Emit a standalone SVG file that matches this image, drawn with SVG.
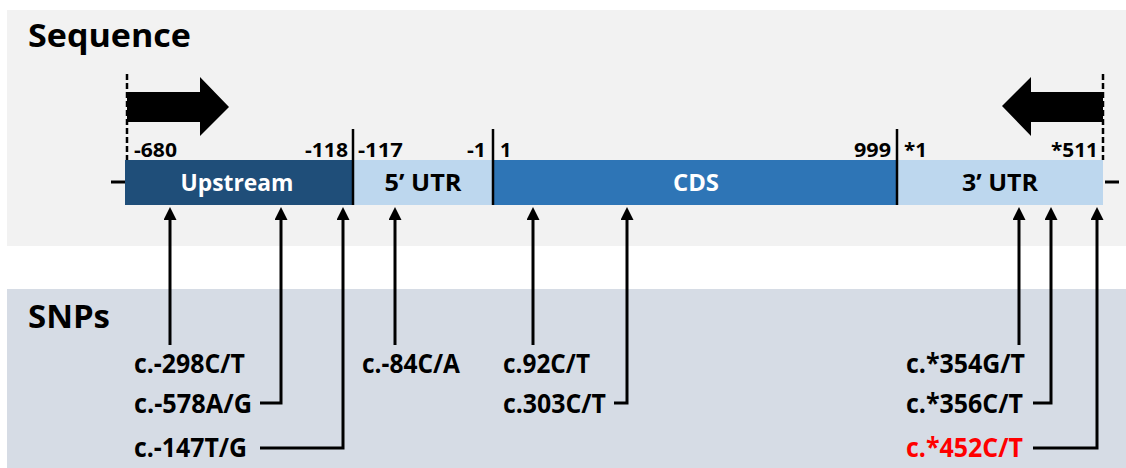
<svg xmlns="http://www.w3.org/2000/svg" width="1126" height="468" viewBox="0 0 1126 468">
<style>
.t{font-family:"Open Sans","Liberation Sans",sans-serif;font-weight:bold;fill:#000}
.h{font-size:32px}
.n{font-size:20px}
.s{font-size:23px}
.l{font-size:26px}
.w{fill:#fff}
.ln{fill:none;stroke:#000;stroke-width:3;stroke-linejoin:miter}
.dv{stroke:#000;stroke-width:2.5}
.ds{stroke:#000;stroke-width:2.5;stroke-dasharray:6 3}
</style>
<defs>
<marker id="ah" markerUnits="userSpaceOnUse" markerWidth="14" markerHeight="14" refX="0" refY="6.5" orient="auto">
<path d="M0,0 L13,6.5 L0,13 Z" fill="#000"/>
</marker>
</defs>
<g id="panels">
<rect x="7" y="10" width="1119" height="236" fill="#f2f2f2"/>
<rect x="7" y="289" width="1119" height="179" fill="#d6dce5"/>
<text class="t h" x="28" y="47" textLength="163" lengthAdjust="spacingAndGlyphs">Sequence</text>
<text class="t h" x="28" y="328" textLength="82" lengthAdjust="spacingAndGlyphs">SNPs</text>
</g>
<g id="sequence">
<line x1="111" y1="182" x2="125" y2="182" stroke="#000" stroke-width="3"/>
<line x1="1105" y1="182" x2="1119" y2="182" stroke="#000" stroke-width="3"/>
<g id="upstream">
<rect x="125" y="160" width="228" height="45" fill="#1f4e79"/>
<text class="t s w" x="237" y="191" text-anchor="middle" textLength="113" lengthAdjust="spacingAndGlyphs">Upstream</text>
</g>
<g id="utr5">
<rect x="353" y="160" width="140" height="45" fill="#bdd7ee"/>
<text class="t s" x="423" y="191" text-anchor="middle" textLength="77" lengthAdjust="spacingAndGlyphs">5’ UTR</text>
</g>
<g id="cds">
<rect x="493" y="160" width="404" height="45" fill="#2e75b6"/>
<text class="t s w" x="696" y="191" text-anchor="middle" textLength="46" lengthAdjust="spacingAndGlyphs">CDS</text>
</g>
<g id="utr3">
<rect x="897" y="160" width="206" height="45" fill="#bdd7ee"/>
<text class="t s" x="1000" y="191" text-anchor="middle" textLength="76" lengthAdjust="spacingAndGlyphs">3’ UTR</text>
</g>
<line class="dv" x1="353" y1="129" x2="353" y2="205"/>
<line class="dv" x1="493" y1="129" x2="493" y2="205"/>
<line class="dv" x1="897" y1="129" x2="897" y2="205"/>
<line class="ds" x1="127" y1="74" x2="127" y2="160"/>
<line class="ds" x1="1103" y1="74" x2="1103" y2="160"/>
<polygon points="127,92 200,92 200,77 229,107 200,136 200,122 127,122" fill="#000"/>
<polygon points="1103,92 1031,92 1031,77 1002,106 1031,136 1031,122 1103,122" fill="#000"/>
<text class="t n" x="134" y="157" textLength="43" lengthAdjust="spacingAndGlyphs">-680</text>
<text class="t n" x="348" y="157" text-anchor="end" textLength="43" lengthAdjust="spacingAndGlyphs">-118</text>
<text class="t n" x="358" y="157" textLength="45" lengthAdjust="spacingAndGlyphs">-117</text>
<text class="t n" x="486" y="157" text-anchor="end" textLength="19" lengthAdjust="spacingAndGlyphs">-1</text>
<text class="t n" x="500" y="157">1</text>
<text class="t n" x="891" y="157" text-anchor="end" textLength="37" lengthAdjust="spacingAndGlyphs">999</text>
<text class="t n" x="904" y="157" textLength="23" lengthAdjust="spacingAndGlyphs">*1</text>
<text class="t n" x="1098" y="157" text-anchor="end" textLength="47" lengthAdjust="spacingAndGlyphs">*511</text>
</g>
<g id="connectors">
<path class="ln" marker-end="url(#ah)" d="M170,345 V220"/>
<path class="ln" marker-end="url(#ah)" d="M260,403 H281 V220"/>
<path class="ln" marker-end="url(#ah)" d="M260,448 H343 V220"/>
<path class="ln" marker-end="url(#ah)" d="M395,345 V220"/>
<path class="ln" marker-end="url(#ah)" d="M533,345 V220"/>
<path class="ln" marker-end="url(#ah)" d="M614,403 H627 V220"/>
<path class="ln" marker-end="url(#ah)" d="M1019,345 V220"/>
<path class="ln" marker-end="url(#ah)" d="M1033,403 H1051 V220"/>
<path class="ln" marker-end="url(#ah)" d="M1033,448 H1097 V220"/>
</g>
<g id="snp-298"><text class="t l" x="134" y="373" textLength="111" lengthAdjust="spacingAndGlyphs">c.-298C/T</text></g>
<g id="snp-578"><text class="t l" x="134" y="413" textLength="118" lengthAdjust="spacingAndGlyphs">c.-578A/G</text></g>
<g id="snp-147"><text class="t l" x="134" y="457" textLength="113" lengthAdjust="spacingAndGlyphs">c.-147T/G</text></g>
<g id="snp-84"><text class="t l" x="362" y="373" textLength="98" lengthAdjust="spacingAndGlyphs">c.-84C/A</text></g>
<g id="snp-92"><text class="t l" x="503" y="373" textLength="87" lengthAdjust="spacingAndGlyphs">c.92C/T</text></g>
<g id="snp-303"><text class="t l" x="503" y="413" textLength="103" lengthAdjust="spacingAndGlyphs">c.303C/T</text></g>
<g id="snp-354"><text class="t l" x="906" y="373" textLength="119" lengthAdjust="spacingAndGlyphs">c.*354G/T</text></g>
<g id="snp-356"><text class="t l" x="906" y="413" textLength="117" lengthAdjust="spacingAndGlyphs">c.*356C/T</text></g>
<g id="snp-452"><text class="t l" x="906" y="457" style="fill:#ff0000" textLength="117" lengthAdjust="spacingAndGlyphs">c.*452C/T</text></g>
</svg>
